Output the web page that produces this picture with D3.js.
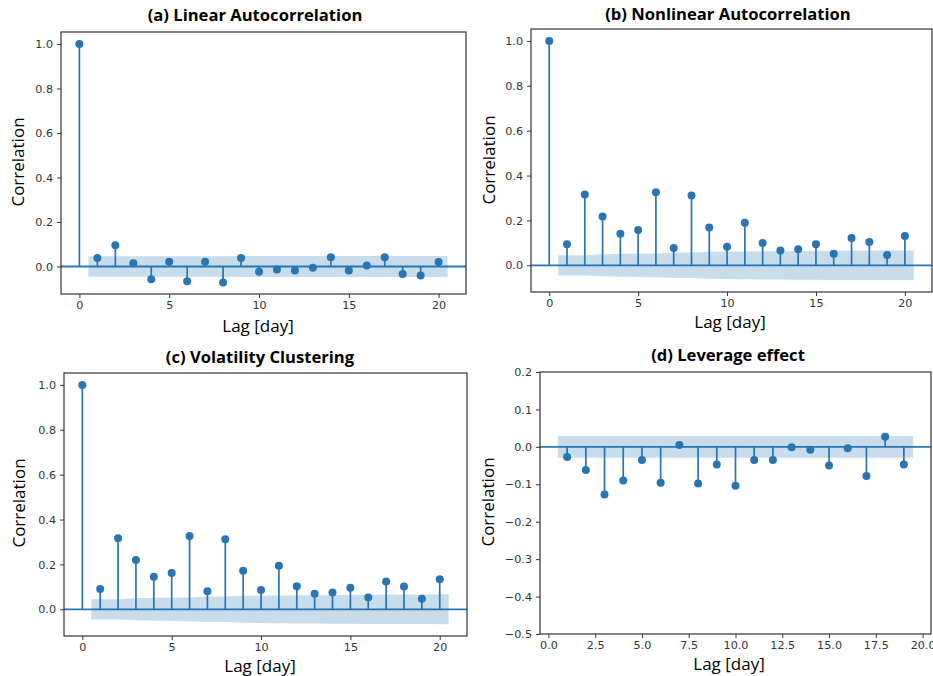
<!DOCTYPE html>
<html>
<head>
<meta charset="utf-8">
<script src="https://cdn.jsdelivr.net/npm/d3@7"></script>
<style>
  body { margin: 0; background: #fff; }
  .tick text { font-family: "DejaVu Sans", sans-serif; font-size: 11.2px; fill: #333; }
  .tick line { stroke: #333; stroke-width: 1; }
  .title { font-family: "Open Sans", sans-serif; font-weight: 700; font-size: 16.6px; }
  .label { font-family: "Open Sans", sans-serif; font-size: 17px; }
</style>
</head>
<body>
<svg id="chart" width="933" height="676"></svg>
<script>
// acf values, index = lag
var linearAcf = [1.0, 0.038, 0.096, 0.015, -0.057, 0.021, -0.066, 0.021, -0.072, 0.038,
                 -0.024, -0.013, -0.018, -0.006, 0.042, -0.018, 0.005, 0.042, -0.034, -0.040, 0.020];
var nonlinearAcf = [1.0, 0.094, 0.316, 0.217, 0.141, 0.157, 0.326, 0.077, 0.311, 0.168,
                    0.083, 0.190, 0.099, 0.066, 0.071, 0.094, 0.051, 0.122, 0.104, 0.046, 0.131];
var volClusterAcf = [1.0, 0.090, 0.317, 0.220, 0.145, 0.162, 0.327, 0.080, 0.312, 0.172,
                     0.086, 0.194, 0.103, 0.069, 0.075, 0.096, 0.053, 0.124, 0.102, 0.047, 0.134];
// leverage effect starts at lag 1
var leverageAcf = [-0.027, -0.062, -0.127, -0.090, -0.035, -0.096, 0.005, -0.098, -0.047, -0.104,
                   -0.035, -0.035, -0.001, -0.008, -0.050, -0.004, -0.078, 0.027, -0.047];

// confidence band half widths, lags 1..20 (1..19 for leverage)
var linearBand = [0.046, 0.046, 0.046, 0.046, 0.046, 0.046, 0.046, 0.046, 0.047, 0.047,
                  0.047, 0.047, 0.047, 0.047, 0.047, 0.047, 0.047, 0.047, 0.047, 0.047];
var nonlinearBand = [0.045, 0.045, 0.049, 0.051, 0.052, 0.053, 0.057, 0.057, 0.060, 0.061,
                     0.062, 0.063, 0.063, 0.064, 0.064, 0.065, 0.065, 0.066, 0.066, 0.066];
var volClusterBand = [0.045, 0.045, 0.049, 0.051, 0.052, 0.053, 0.057, 0.057, 0.060, 0.061,
                      0.062, 0.063, 0.063, 0.064, 0.064, 0.065, 0.065, 0.066, 0.066, 0.067];
var leverageBand = [0.029, 0.029, 0.029, 0.029, 0.029, 0.029, 0.029, 0.029, 0.029, 0.029,
                    0.029, 0.029, 0.029, 0.029, 0.029, 0.029, 0.029, 0.029, 0.029];

var acfTicksY = [0, 0.2, 0.4, 0.6, 0.8, 1.0];
var acfTicksX = [0, 5, 10, 15, 20];
var levTicksY = [-0.5, -0.4, -0.3, -0.2, -0.1, 0.0, 0.1, 0.2];
var levTicksX = [0, 2.5, 5, 7.5, 10, 12.5, 15, 17.5, 20];

var titles = ["(a) Linear Autocorrelation", "(b) Nonlinear Autocorrelation",
              "(c) Volatility Clustering", "(d) Leverage effect"];

var blue = "#2a74b3";
var svg = d3.select("#chart");

function minus(s){ return s.replace("-", "\u2212"); }

var panels = [
  {acf: linearAcf, band: linearBand, lag0: 0, box: [61, 32, 466, 294], xd: [-1.025, 21.525], yd: [-0.1235, 1.0535],
   tx: acfTicksX, ty: acfTicksY, fx: d3.format("d"), fy: d3.format(".1f"),
   title: [255, 21], ylab: [17, 162], xlab: [258, 332]},
  {acf: nonlinearAcf, band: nonlinearBand, lag0: 0, box: [531, 29, 932, 292], xd: [-1.025, 21.525], yd: [-0.119, 1.053],
   tx: acfTicksX, ty: acfTicksY, fx: d3.format("d"), fy: d3.format(".1f"),
   title: [728, 19.5], ylab: [488, 160], xlab: [730, 328]},
  {acf: volClusterAcf, band: volClusterBand, lag0: 0, box: [64, 373, 467, 636], xd: [-1.025, 21.525], yd: [-0.119, 1.053],
   tx: acfTicksX, ty: acfTicksY, fx: d3.format("d"), fy: d3.format(".1f"),
   title: [260, 363], ylab: [18, 503], xlab: [260, 672]},
  {acf: leverageAcf, band: leverageBand, lag0: 1, box: [540, 372, 931, 634], xd: [-0.45, 20.45], yd: [-0.5, 0.2],
   tx: levTicksX, ty: levTicksY, fx: d3.format(".1f"), fy: function(d){ return minus(d3.format(".1f")(d)); },
   title: [728, 361], ylab: [487, 502], xlab: [729, 670]}
];

panels.forEach(function(p, k){
  var x = d3.scaleLinear().domain(p.xd).range([p.box[0], p.box[2]]);
  var y = d3.scaleLinear().domain(p.yd).range([p.box[3], p.box[1]]);
  var g = svg.append("g");

  var clipId = "clip" + k;
  g.append("clipPath").attr("id", clipId).append("rect")
    .attr("x", p.box[0]).attr("y", p.box[1])
    .attr("width", p.box[2] - p.box[0]).attr("height", p.box[3] - p.box[1]);
  var plot = g.append("g").attr("clip-path", "url(#" + clipId + ")");

  var pts = p.acf.map(function(v, i){ return {lag: i + p.lag0, v: v}; });

  // stems
  plot.selectAll("line.stem").data(pts).enter().append("line")
    .attr("x1", function(d){ return x(d.lag); }).attr("x2", function(d){ return x(d.lag); })
    .attr("y1", y(0)).attr("y2", function(d){ return y(d.v); })
    .attr("stroke", blue).attr("stroke-width", 1.7);

  // zero line
  plot.append("line")
    .attr("x1", p.box[0]).attr("x2", p.box[2]).attr("y1", y(0)).attr("y2", y(0))
    .attr("stroke", blue).attr("stroke-width", 1.8);

  plot.selectAll("circle").data(pts).enter().append("circle")
    .attr("cx", function(d){ return x(d.lag); }).attr("cy", function(d){ return y(d.v); })
    .attr("r", 4).attr("fill", blue);

  // confidence band
  var bandPts = p.band.map(function(w, i){
    var lag = i + 1;
    if (i == 0) lag -= 0.5;
    if (i == p.band.length - 1) lag += 0.5;
    return {lag: lag, w: w};
  });
  var area = d3.area()
    .x(function(d){ return x(d.lag); })
    .y0(function(d){ return y(-d.w); })
    .y1(function(d){ return y(d.w); });
  plot.append("path").datum(bandPts).attr("d", area)
    .attr("fill", "#1f77b4").attr("fill-opacity", 0.25);

  // axes
  g.append("g").attr("transform", "translate(0," + p.box[3] + ")")
    .call(d3.axisBottom(x).tickValues(p.tx).tickFormat(p.fx).tickSizeInner(4).tickSizeOuter(0).tickPadding(3))
    .call(function(s){ s.select(".domain").remove(); });
  g.append("g").attr("transform", "translate(" + p.box[0] + ",0)")
    .call(d3.axisLeft(y).tickValues(p.ty).tickFormat(p.fy).tickSizeInner(4).tickSizeOuter(0).tickPadding(4))
    .call(function(s){ s.select(".domain").remove(); });

  g.append("rect")
    .attr("x", p.box[0]).attr("y", p.box[1])
    .attr("width", p.box[2] - p.box[0]).attr("height", p.box[3] - p.box[1])
    .attr("fill", "none").attr("stroke", "#333").attr("stroke-width", 1.2);

  g.append("text").attr("class", "title")
    .attr("x", p.title[0]).attr("y", p.title[1]).attr("text-anchor", "middle")
    .text(titles[k]);
  g.append("text").attr("class", "label")
    .attr("transform", "translate(" + p.ylab[0] + "," + p.ylab[1] + ") rotate(-90)")
    .attr("text-anchor", "middle").attr("dominant-baseline", "central")
    .text("Correlation");
  g.append("text").attr("class", "label")
    .attr("x", p.xlab[0]).attr("y", p.xlab[1]).attr("text-anchor", "middle")
    .text("Lag [day]");
});
</script>
</body>
</html>
